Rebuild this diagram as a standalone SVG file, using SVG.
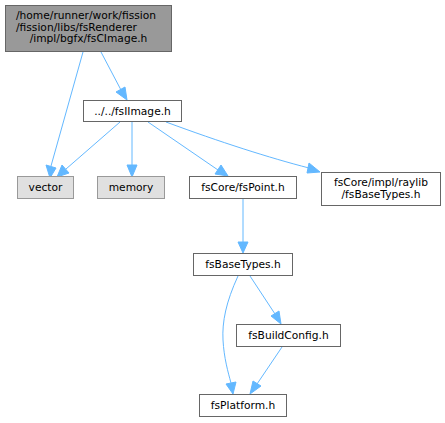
<svg xmlns="http://www.w3.org/2000/svg" width="445" height="423" viewBox="0 0 445 423">
<defs>
<style>
.n rect{fill:#ffffff;stroke:#666666;stroke-width:1}
.g rect{fill:#e0e0e0;stroke:#999999;stroke-width:1}
.r rect{fill:#999999;stroke:#666666;stroke-width:1}
text{font-family:"DejaVu Sans",sans-serif;font-size:10.67px;fill:#000000}
.e path{fill:none;stroke:#63b8ff;stroke-width:1}
.e polygon{fill:#63b8ff;stroke:#63b8ff;stroke-width:1}
</style>
</defs>
<rect width="445" height="423" fill="#ffffff"/>
<g class="e" id="edges">
<path d="M83,52 L51,166"/><polygon points="46,165 50,178 56,168"/>
<path d="M101,52 L121,90"/><polygon points="116,92 127,100 125,87"/>
<path d="M120,122 L66,169"/><polygon points="62,165 57,177 69,173"/>
<path d="M132,122 L132,165"/><polygon points="127,165 132,177 137,165"/>
<path d="M148,122 L218,170"/><polygon points="215,174 228,176 221,165"/>
<path d="M166,122 C220,142 270,158 309,168"/><polygon points="307,173 320,172 309,163"/>
<path d="M243,199 L243,242"/><polygon points="238,242 243,253 248,242"/>
<path d="M250,276 L275,314"/><polygon points="271,316 281,324 279,311"/>
<path d="M238,276 C226,302 222,322 223,340 C224,358 228,372 231,383"/><polygon points="226,384 233,394 236,382"/>
<path d="M282,347 L257,384"/><polygon points="253,381 250,394 261,386"/>
</g>
<g id="root" class="r"><rect x="5.5" y="5.5" width="166" height="46"/>
<text x="16" y="19">/home/runner/work/fission</text>
<text x="16" y="30.5">/fission/libs/fsRenderer</text>
<text x="88.5" y="42" text-anchor="middle">/impl/bgfx/fsCImage.h</text></g>
<g id="fsIImage" class="n"><rect x="83.5" y="100.5" width="98" height="21"/><text x="132.5" y="115" text-anchor="middle">../../fsIImage.h</text></g>
<g id="vector" class="g"><rect x="17.5" y="176.5" width="56" height="22"/><text x="45.5" y="191" text-anchor="middle">vector</text></g>
<g id="memory" class="g"><rect x="97.5" y="176.5" width="67" height="22"/><text x="131" y="191" text-anchor="middle">memory</text></g>
<g id="fsPoint" class="n"><rect x="189.5" y="176.5" width="107" height="22"/><text x="243" y="191" text-anchor="middle">fsCore/fsPoint.h</text></g>
<g id="raylib" class="n"><rect x="321.5" y="172.5" width="119" height="33"/>
<text x="381" y="185.5" text-anchor="middle">fsCore/impl/raylib</text>
<text x="381" y="197.5" text-anchor="middle">/fsBaseTypes.h</text></g>
<g id="fsBaseTypes" class="n"><rect x="193.5" y="253.5" width="99" height="22"/><text x="243" y="268" text-anchor="middle">fsBaseTypes.h</text></g>
<g id="fsBuildConfig" class="n"><rect x="236.5" y="324.5" width="104" height="22"/><text x="288.5" y="339" text-anchor="middle">fsBuildConfig.h</text></g>
<g id="fsPlatform" class="n"><rect x="199.5" y="394.5" width="87" height="22"/><text x="243" y="409" text-anchor="middle">fsPlatform.h</text></g>
</svg>
